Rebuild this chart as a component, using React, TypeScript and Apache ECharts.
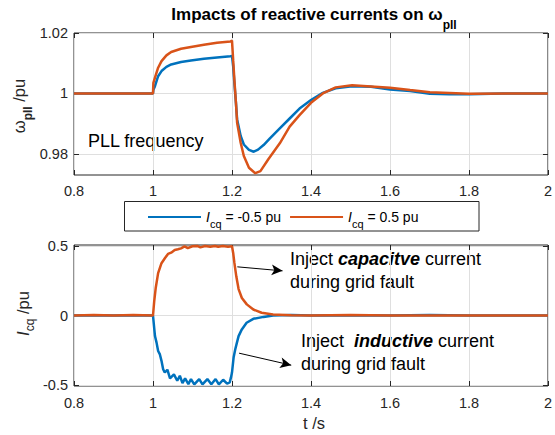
import React, { useEffect, useRef } from "react";
import * as echarts from "echarts";

// ---------- data ----------
const seriesNames = ["Icq = -0.5 pu", "Icq = 0.5 pu"];
const xMin = 0.8;
const xMax = 2;
const xStep = 0.2;
const wTicks = [0.98, 1, 1.02];
const iTicks = [-0.5, 0, 0.5];

// PLL frequency (pu), Icq = -0.5 pu
const wpllNeg = [
  [0.8, 1.0], [0.85, 1.0], [0.9, 1.0], [0.95, 1.0], [1.0, 1.0], [1.001, 1.0012], [1.005, 1.0024],
  [1.013, 1.0057], [1.0216, 1.0074], [1.034, 1.0088], [1.046, 1.0096], [1.071, 1.0104], [1.096, 1.0109],
  [1.129, 1.0115], [1.162, 1.0119], [1.196, 1.0123], [1.2, 1.0124], [1.203, 1.009], [1.206, 1.0035],
  [1.21, 0.9969], [1.213, 0.9914], [1.222, 0.9859], [1.23, 0.9831], [1.243, 0.9813], [1.255, 0.9807],
  [1.266, 0.9814], [1.28, 0.9829], [1.296, 0.9851], [1.321, 0.9884], [1.346, 0.9917], [1.371, 0.995],
  [1.4, 0.9978], [1.43, 1.0002], [1.4625, 1.0017], [1.504, 1.0024], [1.552, 1.0022], [1.6, 1.0013],
  [1.651, 1.0008], [1.701, 0.9999], [1.75, 0.9997], [1.8, 0.9997], [1.885, 1.0], [2.0, 1.0],
];
// PLL frequency (pu), Icq = 0.5 pu
const wpllPos = [
  [0.8, 1.0], [0.9, 1.0], [1.0, 1.0], [1.001, 1.0035], [1.005, 1.0052], [1.013, 1.0085], [1.0216, 1.0107],
  [1.034, 1.0126], [1.046, 1.0137], [1.071, 1.0148], [1.096, 1.0154], [1.129, 1.0161], [1.162, 1.0168],
  [1.196, 1.0172], [1.2, 1.0175], [1.203, 1.011], [1.206, 1.0046], [1.21, 0.9969], [1.213, 0.9903],
  [1.222, 0.9837], [1.23, 0.9793], [1.243, 0.9754], [1.259, 0.9736], [1.272, 0.9743], [1.292, 0.9782],
  [1.321, 0.9835], [1.346, 0.989], [1.371, 0.9928], [1.4, 0.9969], [1.43, 1.0], [1.4625, 1.002],
  [1.504, 1.0027], [1.552, 1.0023], [1.6, 1.0019], [1.651, 1.0011], [1.701, 1.0004], [1.8, 0.9999],
  [1.9, 1.0], [2.0, 1.0],
];
// reactive current Icq (pu), -0.5 pu case
const icqNeg = [
  [0.8, 0], [0.85, 0.002], [0.9, 0], [0.95, 0.002], [1.0, 0], [1.005, -0.148], [1.009, -0.195],
  [1.013, -0.255], [1.0175, -0.28], [1.0215, -0.326], [1.0257, -0.386], [1.0298, -0.41], [1.0364, -0.39],
  [1.0431, -0.452], [1.053, -0.424], [1.0614, -0.469], [1.068, -0.433], [1.0746, -0.486], [1.0813, -0.452],
  [1.0896, -0.493], [1.0962, -0.457], [1.1045, -0.495], [1.117, -0.457], [1.1253, -0.495], [1.1377, -0.457],
  [1.1477, -0.495], [1.1585, -0.457], [1.1668, -0.495], [1.1776, -0.462], [1.1876, -0.49], [1.1942, -0.481],
  [1.1975, -0.445], [1.2, -0.41], [1.2042, -0.3], [1.2083, -0.243], [1.2125, -0.195], [1.2167, -0.148],
  [1.2249, -0.1], [1.237, -0.052], [1.254, -0.024], [1.28, -0.01], [1.304, 0], [1.35, 0.003], [1.4, 0],
  [1.5, 0.002], [1.6, 0], [1.7, 0.003], [1.8, 0], [2.0, 0],
];
// reactive current Icq (pu), 0.5 pu case
const icqPos = [
  [0.8, 0], [0.85, 0.003], [0.9, 0], [0.95, 0.003], [1.0, 0], [1.003, 0.1], [1.007, 0.2], [1.013, 0.305],
  [1.0215, 0.376], [1.03, 0.412], [1.038, 0.443], [1.046, 0.452], [1.055, 0.471], [1.063, 0.476],
  [1.071, 0.483], [1.08, 0.497], [1.088, 0.485], [1.1, 0.498], [1.112, 0.5], [1.12, 0.49], [1.132, 0.5],
  [1.145, 0.494], [1.157, 0.5], [1.165, 0.495], [1.177, 0.5], [1.19, 0.495], [1.2, 0.498], [1.203, 0.45],
  [1.206, 0.38], [1.211, 0.28], [1.2167, 0.19], [1.225, 0.126], [1.2375, 0.08], [1.254, 0.043],
  [1.275, 0.02], [1.304, 0.007], [1.35, 0.002], [1.4, 0], [1.5, 0.004], [1.6, 0], [2.0, 0],
];
// annotation arrows [from, to] in (t, Icq)
const arrowCapacitive = [[1.2135, 0.35], [1.328, 0.321]];
const arrowInductive = [[1.218, -0.271], [1.35, -0.357]];

// ---------- style ----------
const FONT = '"Liberation Sans", Arial, Helvetica, sans-serif';
const AX = "#262626";
const GRIDC = "#dfdfdf";
const BLUE = "#0072BD";
const ORANGE = "#D95319";

const fmtX = (v: number) => String(+v.toFixed(1));
const fmtW = (v: number) => (Math.abs(v - 1) < 1e-9 ? "1" : v.toFixed(2));
const fmtI = (v: number) => (Math.abs(v) < 1e-9 ? "0" : String(+v.toFixed(1)));

function xAx(gridIndex: number, position: "top" | "bottom", main: boolean) {
  return {
    type: "value",
    gridIndex,
    position,
    min: xMin,
    max: xMax,
    interval: xStep,
    axisLine: { show: false, onZero: false },
    axisTick: { show: true, inside: true, length: 5, lineStyle: { color: AX, width: 1 } },
    axisLabel: {
      show: main,
      margin: gridIndex === 0 ? 8 : 9,
      color: AX,
      fontSize: 14.5,
      fontFamily: FONT,
      formatter: fmtX,
      showMinLabel: true,
      showMaxLabel: true,
    },
    splitLine: { show: main, lineStyle: { color: GRIDC, width: 1 } },
  };
}

function yAx(gridIndex: number, position: "left" | "right", main: boolean, min: number, max: number, ticks: number[], fmt: (v: number) => string) {
  return {
    type: "value",
    gridIndex,
    position,
    min,
    max,
    axisLine: { show: false, onZero: false },
    axisTick: { show: true, inside: true, length: 5, customValues: ticks, lineStyle: { color: AX, width: 1 } },
    axisLabel: {
      show: main,
      margin: 6,
      color: AX,
      fontSize: 14.5,
      fontFamily: FONT,
      customValues: ticks,
      formatter: fmt,
    },
    splitLine: { show: main, lineStyle: { color: GRIDC, width: 1 } },
  };
}

function lineSeries(name: string, color: string, data: number[][], gi: number, extra: any = {}) {
  return {
    type: "line",
    name,
    xAxisIndex: gi * 2,
    yAxisIndex: gi * 2,
    data,
    symbol: "none",
    showSymbol: false,
    lineStyle: { color, width: 2.5 },
    itemStyle: { color },
    ...extra,
  };
}

const subRich = (size: number, pad: number, bold = false) => ({
  fontSize: size,
  fontFamily: FONT,
  fontWeight: bold ? "bold" : "normal",
  fill: "#000",
  padding: [pad, 0, 0, 0],
});

export default function App() {
  const ref = useRef<HTMLDivElement>(null);
  useEffect(() => {
    if (!ref.current) return;
    const chart = echarts.init(ref.current, undefined, { renderer: "svg" });
    const option: any = {
      animation: false,
      backgroundColor: "#fff",
      grid: [
        { left: 74, top: 33, width: 480, height: 142, show: true, borderColor: AX, borderWidth: 1, backgroundColor: "rgba(0,0,0,0)" },
        { left: 74, top: 245, width: 480, height: 141, show: true, borderColor: AX, borderWidth: 1, backgroundColor: "rgba(0,0,0,0)" },
      ],
      xAxis: [xAx(0, "bottom", true), xAx(0, "top", false), xAx(1, "bottom", true), xAx(1, "top", false)],
      yAxis: [
        yAx(0, "left", true, 0.973, 1.02, wTicks, fmtW),
        yAx(0, "right", false, 0.973, 1.02, wTicks, fmtW),
        yAx(1, "left", true, -0.507, 0.507, iTicks, fmtI),
        yAx(1, "right", false, -0.507, 0.507, iTicks, fmtI),
      ],
      legend: {
        data: seriesNames,
        left: 147,
        top: 210,
        padding: 0,
        itemWidth: 53,
        itemHeight: 14,
        itemGap: 8,
        selectedMode: false,
        itemStyle: { opacity: 0 },
        formatter: (name: string) =>
          name === seriesNames[0] ? "{i|I}{s|cq}{n| = -0.5 pu}" : "{i|I}{s|cq}{n| = 0.5 pu}",
        textStyle: {
          fontSize: 14,
          fontFamily: FONT,
          color: "#000",
          rich: {
            i: { fontSize: 14, fontStyle: "italic", fontFamily: FONT, color: "#000" },
            s: { fontSize: 11, fontFamily: FONT, color: "#000", padding: [14, 0, 0, 0] },
            n: { fontSize: 14, fontFamily: FONT, color: "#000" },
          },
        },
      },
      series: [
        lineSeries(seriesNames[0], BLUE, wpllNeg, 0),
        lineSeries(seriesNames[1], ORANGE, wpllPos, 0),
        lineSeries(seriesNames[0], BLUE, icqNeg, 1),
        lineSeries(seriesNames[1], ORANGE, icqPos, 1, {
          markLine: {
            silent: true,
            symbol: ["none", "arrow"],
            symbolSize: [8, 11],
            label: { show: false },
            lineStyle: { color: "#000", width: 1, type: "solid" },
            data: [
              [{ coord: arrowCapacitive[0] }, { coord: arrowCapacitive[1] }],
              [{ coord: arrowInductive[0] }, { coord: arrowInductive[1] }],
            ],
          },
        }),
      ],
      graphic: [
        {
          type: "rect",
          shape: { x: 124.5, y: 201.5, width: 354.5, height: 29.5 },
          style: { fill: "rgba(0,0,0,0)", stroke: AX, lineWidth: 1 },
          z: 1,
        },
        {
          type: "text",
          x: 314,
          y: 14,
          style: {
            text: "{b|Impacts of reactive currents on }{w|ω}{s|pll}",
            align: "center",
            verticalAlign: "middle",
            rich: {
              b: { fontSize: 17, fontWeight: "bold", fontFamily: FONT, fill: "#000" },
              w: { fontSize: 17, fontWeight: "bold", fontFamily: FONT, fill: "#000" },
              s: subRich(12, 22, true),
            },
          },
        },
        {
          type: "text",
          x: 18.6,
          y: 106,
          rotation: Math.PI / 2,
          style: {
            text: "{w|ω}{s|pll}{n| /pu}",
            align: "center",
            verticalAlign: "middle",
            rich: {
              w: { fontSize: 16.5, fontFamily: FONT, fill: AX },
              s: { ...subRich(12, 19, true), fill: AX },
              n: { fontSize: 16.5, fontFamily: FONT, fill: AX },
            },
          },
        },
        {
          type: "text",
          x: 23,
          y: 313.5,
          rotation: Math.PI / 2,
          style: {
            text: "{i|I}{s|cq}{n| /pu}",
            align: "center",
            verticalAlign: "middle",
            rich: {
              i: { fontSize: 16.5, fontStyle: "italic", fontFamily: FONT, fill: AX },
              s: { ...subRich(12, 14), fill: AX },
              n: { fontSize: 16.5, fontFamily: FONT, fill: AX },
            },
          },
        },
        {
          type: "text",
          x: 314,
          y: 423,
          style: { text: "t /s", align: "center", verticalAlign: "middle", fontSize: 16.5, fontFamily: FONT, fill: AX },
        },
        {
          type: "text",
          x: 88,
          y: 141,
          style: { text: "PLL frequency", align: "left", verticalAlign: "middle", fontSize: 18, fontFamily: FONT, fill: "#000" },
        },
        {
          type: "text",
          x: 290,
          y: 259,
          style: {
            text: "{r|Inject }{b|capacitve}{r| current}",
            align: "left",
            verticalAlign: "middle",
            rich: {
              r: { fontSize: 18, fontFamily: FONT, fill: "#000" },
              b: { fontSize: 18, fontFamily: FONT, fontWeight: "bold", fontStyle: "italic", fill: "#000" },
            },
          },
        },
        {
          type: "text",
          x: 290,
          y: 282,
          style: { text: "during grid fault", align: "left", verticalAlign: "middle", fontSize: 18, fontFamily: FONT, fill: "#000" },
        },
        {
          type: "text",
          x: 301,
          y: 341,
          style: {
            text: "{r|Inject }{b|inductive}{r| current}",
            align: "left",
            verticalAlign: "middle",
            rich: {
              r: { fontSize: 18, fontFamily: FONT, fill: "#000" },
              b: { fontSize: 18, fontFamily: FONT, fontWeight: "bold", fontStyle: "italic", fill: "#000", padding: [0, 0, 0, 5] },
            },
          },
        },
        {
          type: "text",
          x: 301,
          y: 364,
          style: { text: "during grid fault", align: "left", verticalAlign: "middle", fontSize: 18, fontFamily: FONT, fill: "#000" },
        },
      ],
    };
    chart.setOption(option);
    return () => chart.dispose();
  }, []);
  return (
    <div
      ref={ref}
      style={{ position: "absolute", left: 0, top: 0, width: 555, height: 435, background: "#fff" }}
    />
  );
}
